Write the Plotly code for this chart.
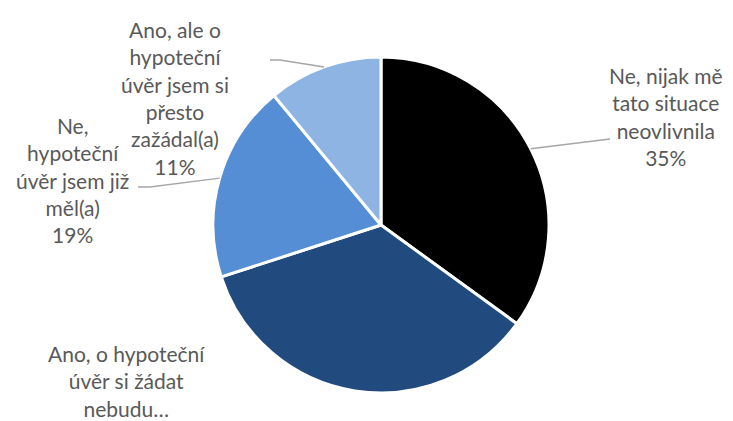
import math
import plotly.graph_objects as go

labels = ["Ne, nijak mě tato situace neovlivnila",
          "Ano, o hypoteční úvěr si žádat nebudu…",
          "Ne, hypoteční úvěr jsem již měl(a)",
          "Ano, ale o hypoteční úvěr jsem si přesto zažádal(a)"]
values = [35, 35, 19, 11]
colors = ["#000000", "#214A7E", "#558ED5", "#8EB4E3"]
label_texts = ["Ne, nijak mě<br>tato situace<br>neovlivnila<br>35%",
               "Ano, o hypoteční<br>úvěr si žádat<br>nebudu…",
               "Ne,<br>hypoteční<br>úvěr jsem již<br>měl(a)<br>19%",
               "Ano, ale o<br>hypoteční<br>úvěr jsem si<br>přesto<br>zažádal(a)<br>11%"]

W, H = 733, 421
OFF = 8  # page body margin
cx, cy, R = 381 - OFF, 225 - OFF, 168

fig = go.Figure(go.Pie(
    labels=labels, values=values, sort=False, direction="clockwise", rotation=0,
    marker=dict(colors=colors, line=dict(color="white", width=3)),
    textinfo="none", hoverinfo="label+percent",
    domain=dict(x=[(cx - R) / W, (cx + R) / W], y=[1 - (cy + R) / H, 1 - (cy - R) / H]),
    showlegend=False,
))

# label centres (reference pixels) and leader elbows
label_pos = [(666, 117), (126, 381), (72, 180), (175, 98)]
elbows = [(610, 139), None, (150, 187), (280, 60)]
ends = [None, None, (138, 187), (270, 60)]

def px(x, y):
    return (x - OFF) / W, 1 - (y - OFF) / H

total = sum(values)
cum = 0
for i, v in enumerate(values):
    mid = (cum + v / 2) / total * 2 * math.pi
    cum += v
    ax_, ay_ = cx + OFF + R * math.sin(mid), cy + OFF - R * math.cos(mid)
    lx, ly = px(*label_pos[i])
    fig.add_annotation(x=lx, y=ly, xref="paper", yref="paper",
                       xanchor="center", yanchor="middle",
                       text=label_texts[i], showarrow=False, align="center",
                       font=dict(family="Lato", size=21, color="#595959"))
    if elbows[i]:
        pts = [(ax_, ay_), elbows[i]] + ([ends[i]] if ends[i] else [])
        for (x0, y0), (x1, y1) in zip(pts[:-1], pts[1:]):
            X0, Y0 = px(x0, y0)
            X1, Y1 = px(x1, y1)
            fig.add_shape(type="line", xref="paper", yref="paper",
                          x0=X0, y0=Y0, x1=X1, y1=Y1,
                          line=dict(color="#A6A6A6", width=1.5))

fig.update_layout(width=W, height=H, margin=dict(l=0, r=0, t=0, b=0),
                  paper_bgcolor="white", plot_bgcolor="white")
fig.write_html("out.html")
